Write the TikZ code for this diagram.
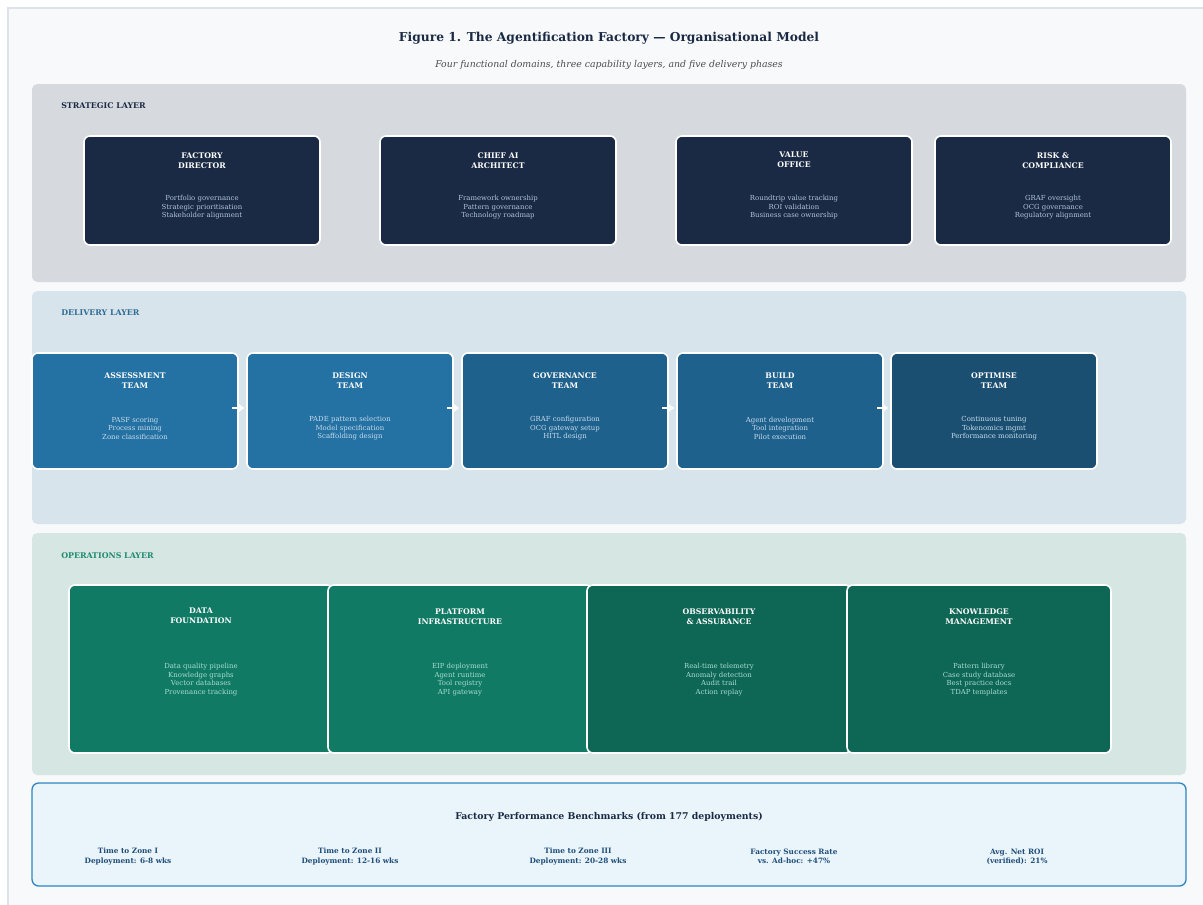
\documentclass[tikz,border=0pt]{standalone}
\usepackage{fontspec}
\setmainfont{DejaVu Serif}
\usetikzlibrary{arrows.meta}

\definecolor{pagebg}{HTML}{F7F9FB}
\definecolor{pageline}{HTML}{DDE2E8}
\definecolor{ink}{HTML}{1B2A44}
\definecolor{stratpanel}{HTML}{D6DADF}
\definecolor{stratbox}{HTML}{1B2A44}
\definecolor{stratdesc}{HTML}{AFC3DA}
\definecolor{delpanel}{HTML}{D8E4EB}
\definecolor{dellabel}{HTML}{2E6B95}
\definecolor{delA}{HTML}{2471A3}
\definecolor{delB}{HTML}{1F618D}
\definecolor{delC}{HTML}{1B4F72}
\definecolor{deldesc}{HTML}{C6DBEB}
\definecolor{opspanel}{HTML}{D5E6E3}
\definecolor{opslabel}{HTML}{1E8A6E}
\definecolor{opsA}{HTML}{117A65}
\definecolor{opsB}{HTML}{0E6655}
\definecolor{opsdesc}{HTML}{A8DCCF}
\definecolor{benchfill}{HTML}{EAF4FB}
\definecolor{benchline}{HTML}{2E86C1}
\definecolor{benchtext}{HTML}{1F4E79}

\tikzset{
  panel/.style={rectangle, rounded corners=4pt, minimum width=865.5pt, inner sep=0pt},
  card/.style={rectangle, rounded corners=4.5pt, draw=white, line width=1.2pt, inner sep=0pt},
  strat/.style={card, fill=stratbox, minimum width=177pt, minimum height=81.75pt},
  deliv/.style={card, minimum width=154.5pt, minimum height=87pt},
  ops/.style={card, minimum width=198pt, minimum height=126pt},
  cardtitle/.style={text=white, align=center, font=\fontsize{5.8}{7.5}\selectfont\bfseries},
  carddesc/.style={align=center, font=\fontsize{5.2}{6.5}\selectfont},
  layerlabel/.style={anchor=west, inner sep=0pt, font=\fontsize{5.9}{7}\selectfont\bfseries},
  benchitem/.style={text=benchtext, align=center, font=\fontsize{5.5}{6.8}\selectfont\bfseries},
  flow/.style={draw=white, line width=1.5pt, -{Triangle[length=4pt,width=5.5pt]}}
}

\begin{document}
\begin{tikzpicture}[x=0.75pt, y=-0.75pt]
  % canvas and page frame
  \fill[white] (0,0) rectangle (1203,904);
  \useasboundingbox (0,0) rectangle (1203,904);
  \draw[pageline, fill=pagebg, line width=0.8pt] (8,8) rectangle (1220,920);

  % heading
  \node[text=ink, font=\fontsize{9.2}{11}\selectfont\bfseries] (title) at (609,38.5)
    {Figure 1. The Agentification Factory — Organisational Model};
  \node[text=black!70, font=\fontsize{7}{8}\selectfont\itshape] (subtitle) at (609,65)
    {Four functional domains, three capability layers, and five delivery phases};

  % ---------------- strategic layer ----------------
  \node[panel, fill=stratpanel, minimum height=148.5pt] (strategic) at (609,183) {};
  \node[layerlabel, text=ink] (stratlabel) at (61,106) {STRATEGIC LAYER};

  \node[strat] (fd) at (202,190.5) {};
  \node[strat] (ca) at (498,190.5) {};
  \node[strat] (vo) at (794,190.5) {};
  \node[strat] (rc) at (1053,190.5) {};

  \foreach \b/\t/\d in {
    fd/{FACTORY\\DIRECTOR}/{Portfolio governance\\Strategic prioritisation\\Stakeholder alignment},
    ca/{CHIEF AI\\ARCHITECT}/{Framework ownership\\Pattern governance\\Technology roadmap},
    vo/{VALUE\\OFFICE}/{Roundtrip value tracking\\ROI validation\\Business case ownership},
    rc/{RISK \&\\COMPLIANCE}/{GRAF oversight\\OCG governance\\Regulatory alignment}} {
    \node[cardtitle] (\b-t) at ([yshift=-18.75pt]\b.north) {\t};
    \node[carddesc, text=stratdesc] (\b-d) at ([yshift=-54pt]\b.north) {\d};
  }

  % ---------------- delivery layer ----------------
  \node[panel, fill=delpanel, minimum height=174.75pt] (delivery) at (609,407.5) {};
  \node[layerlabel, text=dellabel] (dellabel) at (61,313) {DELIVERY LAYER};

  \node[deliv, fill=delA] (as) at (135,411) {};
  \node[deliv, fill=delA] (de) at (350,411) {};
  \node[deliv, fill=delB] (go) at (565,411) {};
  \node[deliv, fill=delB] (bu) at (780,411) {};
  \node[deliv, fill=delC] (op) at (994,411) {};

  \foreach \b/\t/\d in {
    as/{ASSESSMENT\\TEAM}/{PASF scoring\\Process mining\\Zone classification},
    de/{DESIGN\\TEAM}/{PADE pattern selection\\Model specification\\Scaffolding design},
    go/{GOVERNANCE\\TEAM}/{GRAF configuration\\OCG gateway setup\\HITL design},
    bu/{BUILD\\TEAM}/{Agent development\\Tool integration\\Pilot execution},
    op/{OPTIMISE\\TEAM}/{Continuous tuning\\Tokenomics mgmt\\Performance monitoring}} {
    \node[cardtitle] (\b-t) at ([yshift=-21pt]\b.north) {\t};
    \node[carddesc, text=deldesc] (\b-d) at ([yshift=-57pt]\b.north) {\d};
  }

  % phase hand-offs
  \draw[flow] ([xshift=-5pt,yshift=2.25pt]as.east) -- ([xshift=-1.5pt,yshift=2.25pt]de.west);
  \draw[flow] ([xshift=-5pt,yshift=2.25pt]de.east) -- ([xshift=-1.5pt,yshift=2.25pt]go.west);
  \draw[flow] ([xshift=-5pt,yshift=2.25pt]go.east) -- ([xshift=-1.5pt,yshift=2.25pt]bu.west);
  \draw[flow] ([xshift=-5pt,yshift=2.25pt]bu.east) -- ([xshift=-1.5pt,yshift=2.25pt]op.west);

  % ---------------- operations layer ----------------
  \node[panel, fill=opspanel, minimum height=181.5pt] (operations) at (609,654) {};
  \node[layerlabel, text=opslabel] (opslabel) at (61,556) {OPERATIONS LAYER};

  \node[ops, fill=opsA] (df) at (201,669) {};
  \node[ops, fill=opsA] (pi) at (460,669) {};
  \node[ops, fill=opsB] (oa) at (719,669) {};
  \node[ops, fill=opsB] (km) at (979,669) {};

  \foreach \b/\t/\d in {
    df/{DATA\\FOUNDATION}/{Data quality pipeline\\Knowledge graphs\\Vector databases\\Provenance tracking},
    pi/{PLATFORM\\INFRASTRUCTURE}/{EIP deployment\\Agent runtime\\Tool registry\\API gateway},
    oa/{OBSERVABILITY\\\& ASSURANCE}/{Real-time telemetry\\Anomaly detection\\Audit trail\\Action replay},
    km/{KNOWLEDGE\\MANAGEMENT}/{Pattern library\\Case study database\\Best practice docs\\TDAP templates}} {
    \node[cardtitle] (\b-t) at ([yshift=-24pt]\b.north) {\t};
    \node[carddesc, text=opsdesc] (\b-d) at ([yshift=-71.5pt]\b.north) {\d};
  }

  % ---------------- benchmarks ----------------
  \node[panel, fill=benchfill, draw=benchline, line width=1pt, rounded corners=5pt,
        minimum width=865.5pt, minimum height=77.25pt] (bench) at (609,834.5) {};
  \node[text=ink, font=\fontsize{7}{8.4}\selectfont\bfseries] (benchtitle) at (609,817)
    {Factory Performance Benchmarks (from 177 deployments)};
  \node[benchitem] (b1) at (128,856.5) {Time to Zone I\\Deployment: 6-8 wks};
  \node[benchitem] (b2) at (350,856.5) {Time to Zone II\\Deployment: 12-16 wks};
  \node[benchitem] (b3) at (578,856.5) {Time to Zone III\\Deployment: 20-28 wks};
  \node[benchitem] (b4) at (794,856.5) {Factory Success Rate\\vs. Ad-hoc: +47\%};
  \node[benchitem] (b5) at (1017,856.5) {Avg. Net ROI\\(verified): 21\%};
\end{tikzpicture}
\end{document}
